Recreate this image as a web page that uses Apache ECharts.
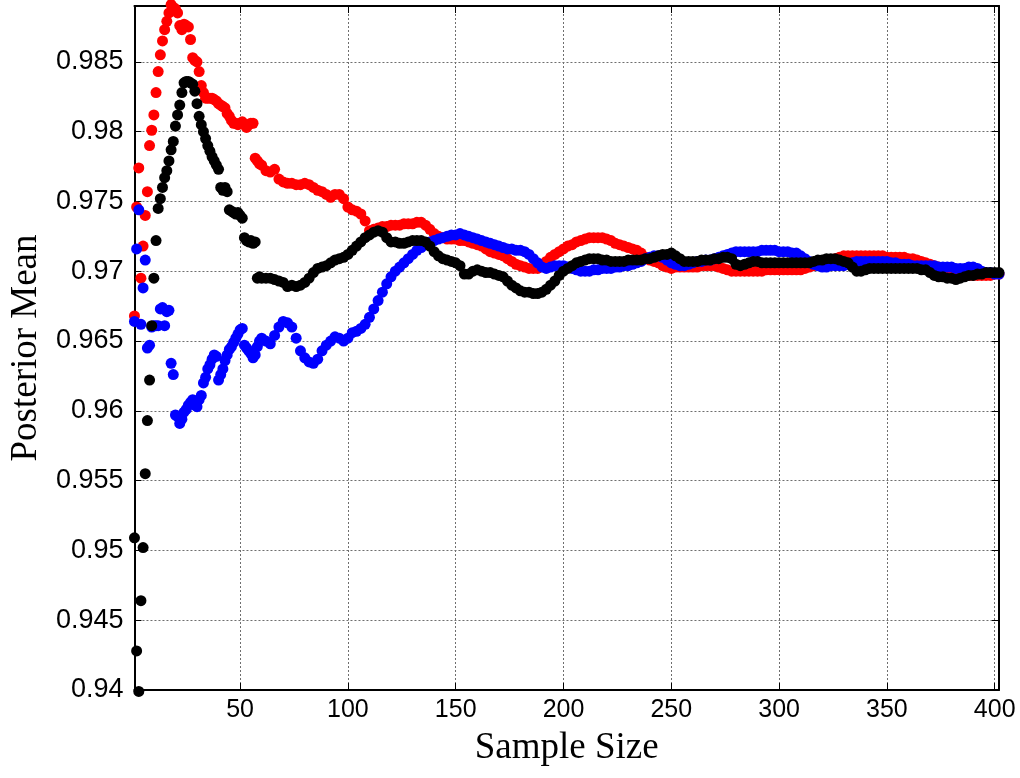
<!DOCTYPE html>
<html><head><meta charset="utf-8">
<script src="https://cdn.jsdelivr.net/npm/echarts@6/dist/echarts.min.js"></script>
<style>html,body{margin:0;padding:0;background:#fff}#c{width:1020px;height:778px}</style>
</head><body><div id="c"></div><script>
const sampleSize = [
1,2,3,4,5,6,7,8,9,10,
11,12,13,14,15,16,17,18,19,20,
21,22,23,24,25,26,27,28,29,30,
31,32,33,34,35,36,37,38,39,40,
41,42,43,44,45,46,47,48,49,50,
51,52,53,54,55,56,57,58,59,60,
62,64,66,68,70,72,74,76,78,80,
82,84,86,88,90,92,94,96,98,100,
102,104,106,108,110,112,114,116,118,120,
122,124,126,128,130,132,134,136,138,140,
142,144,146,148,150,152,154,156,158,160,
162,164,166,168,170,172,174,176,178,180,
182,184,186,188,190,192,194,196,198,200,
202,204,206,208,210,212,214,216,218,220,
222,224,226,228,230,232,234,236,238,240,
242,244,246,248,250,252,254,256,258,260,
262,264,266,268,270,272,274,276,278,280,
282,284,286,288,290,292,294,296,298,300,
302,304,306,308,310,312,314,316,318,320,
322,324,326,328,330,332,334,336,338,340,
342,344,346,348,350,352,354,356,358,360,
362,364,366,368,370,372,374,376,378,380,
382,384,386,388,390,392,394,396,398,400,
402];

const redMean = [
0.9668,0.9746,0.9774,0.9695,0.9718,0.9740,0.9757,0.9790,0.9801,0.9812,
0.9828,0.9843,0.9855,0.9865,0.9873,0.9879,0.9885,0.9891,0.9889,0.9888,
0.9885,0.9876,0.9873,0.9877,0.9876,0.9875,0.9866,0.9853,0.9851,0.9850,
0.9843,0.9833,0.9828,0.9824,0.9824,0.9824,0.9824,0.9823,0.9822,0.9820,
0.9819,0.9818,0.9817,0.9813,0.9811,0.9808,0.9806,0.9806,0.9805,0.9806,
0.9807,0.9805,0.9803,0.9805,0.9806,0.9806,0.9781,0.9779,0.9777,0.9776,
0.9772,0.9771,0.9773,0.9766,0.9764,0.9763,0.9763,0.9762,0.9762,0.9763,
0.9762,0.9760,0.9758,0.9757,0.9755,0.9753,0.9755,0.9755,0.9752,0.9746,
0.9744,0.9743,0.9741,0.9736,0.9729,0.9730,0.9731,0.9732,0.9732,0.9733,
0.9733,0.9733,0.9734,0.9734,0.9734,0.9735,0.9735,0.9733,0.9730,0.9727,
0.9725,0.9724,0.9723,0.9723,0.9723,0.9722,0.9722,0.9721,0.9720,0.9719,
0.9718,0.9716,0.9714,0.9713,0.9712,0.9711,0.9709,0.9707,0.9705,0.9704,
0.9703,0.9702,0.9702,0.9702,0.9704,0.9707,0.9710,0.9712,0.9714,0.9716,
0.9718,0.9719,0.9721,0.9722,0.9723,0.9724,0.9724,0.9724,0.9724,0.9723,
0.9722,0.9720,0.9719,0.9718,0.9717,0.9716,0.9715,0.9713,0.9710,0.9708,
0.9707,0.9706,0.9704,0.9703,0.9702,0.9703,0.9703,0.9703,0.9703,0.9703,
0.9703,0.9704,0.9704,0.9704,0.9704,0.9703,0.9702,0.9701,0.9700,0.9700,
0.9700,0.9700,0.9700,0.9700,0.9700,0.9700,0.9701,0.9701,0.9701,0.9701,
0.9701,0.9701,0.9701,0.9701,0.9701,0.9702,0.9703,0.9704,0.9705,0.9705,
0.9706,0.9708,0.9709,0.9710,0.9711,0.9711,0.9711,0.9711,0.9711,0.9711,
0.9711,0.9711,0.9711,0.9711,0.9710,0.9710,0.9710,0.9710,0.9710,0.9709,
0.9709,0.9708,0.9707,0.9706,0.9705,0.9704,0.9703,0.9702,0.9701,0.9700,
0.9699,0.9698,0.9697,0.9697,0.9697,0.9697,0.9697,0.9697,0.9697,0.9698,
0.9698];

const blueMean = [
0.9664,0.9716,0.9744,0.9662,0.9688,0.9708,0.9645,0.9647,0.9660,0.9661,
0.9661,0.9661,0.9673,0.9674,0.9661,0.9671,0.9672,0.9634,0.9626,0.9597,
0.9596,0.9591,0.9594,0.9599,0.9601,0.9604,0.9606,0.9608,0.9604,0.9603,
0.9608,0.9611,0.9620,0.9624,0.9630,0.9633,0.9637,0.9640,0.9639,0.9622,
0.9626,0.9630,0.9636,0.9640,0.9644,0.9646,0.9649,0.9652,0.9655,0.9658,
0.9659,0.9647,0.9645,0.9643,0.9641,0.9638,0.9640,0.9646,0.9650,0.9652,
0.9650,0.9648,0.9654,0.9660,0.9664,0.9663,0.9660,0.9652,0.9643,0.9638,
0.9635,0.9634,0.9637,0.9643,0.9647,0.9650,0.9653,0.9652,0.9650,0.9652,
0.9656,0.9657,0.9659,0.9662,0.9667,0.9673,0.9679,0.9685,0.9691,0.9696,
0.9700,0.9703,0.9706,0.9709,0.9712,0.9715,0.9717,0.9719,0.9721,0.9722,
0.9723,0.9724,0.9725,0.9726,0.9726,0.9727,0.9726,0.9725,0.9724,0.9723,
0.9722,0.9721,0.9720,0.9719,0.9718,0.9717,0.9716,0.9716,0.9715,0.9715,
0.9714,0.9712,0.9709,0.9706,0.9703,0.9702,0.9703,0.9704,0.9704,0.9704,
0.9703,0.9702,0.9701,0.9700,0.9700,0.9700,0.9701,0.9701,0.9702,0.9702,
0.9702,0.9703,0.9703,0.9704,0.9704,0.9705,0.9706,0.9707,0.9709,0.9710,
0.9711,0.9711,0.9710,0.9708,0.9706,0.9705,0.9704,0.9704,0.9705,0.9706,
0.9707,0.9707,0.9708,0.9708,0.9709,0.9710,0.9711,0.9712,0.9713,0.9714,
0.9714,0.9714,0.9714,0.9714,0.9714,0.9715,0.9715,0.9715,0.9715,0.9714,
0.9714,0.9714,0.9713,0.9713,0.9711,0.9709,0.9707,0.9705,0.9704,0.9703,
0.9703,0.9704,0.9704,0.9704,0.9704,0.9705,0.9706,0.9707,0.9707,0.9707,
0.9707,0.9707,0.9707,0.9707,0.9707,0.9706,0.9706,0.9705,0.9705,0.9705,
0.9704,0.9704,0.9704,0.9704,0.9704,0.9704,0.9703,0.9703,0.9703,0.9703,
0.9702,0.9702,0.9702,0.9703,0.9703,0.9702,0.9700,0.9699,0.9699,0.9698,
0.9698];

const blackMean = [
0.9509,0.9428,0.9399,0.9464,0.9502,0.9555,0.9593,0.9622,0.9661,0.9695,
0.9722,0.9745,0.9752,0.9760,0.9767,0.9772,0.9779,0.9787,0.9793,0.9804,
0.9812,0.9819,0.9828,0.9835,0.9836,0.9836,0.9835,0.9834,0.9829,0.9820,
0.9811,0.9805,0.9800,0.9795,0.9790,0.9786,0.9782,0.9779,0.9776,0.9773,
0.9760,0.9758,0.9760,0.9757,0.9744,0.9743,0.9742,0.9741,0.9742,0.9740,
0.9738,0.9724,0.9722,0.9721,0.9722,0.9720,0.9721,0.9695,0.9696,0.9695,
0.9695,0.9695,0.9694,0.9693,0.9692,0.9689,0.9690,0.9689,0.9690,0.9692,
0.9695,0.9699,0.9702,0.9703,0.9704,0.9706,0.9708,0.9709,0.9710,0.9712,
0.9715,0.9718,0.9721,0.9724,0.9726,0.9728,0.9729,0.9728,0.9724,0.9721,
0.9721,0.9720,0.9720,0.9721,0.9722,0.9722,0.9722,0.9721,0.9718,0.9714,
0.9711,0.9709,0.9708,0.9707,0.9706,0.9704,0.9698,0.9698,0.9700,0.9701,
0.9700,0.9699,0.9699,0.9698,0.9697,0.9696,0.9693,0.9690,0.9688,0.9686,
0.9685,0.9685,0.9684,0.9684,0.9685,0.9687,0.9690,0.9693,0.9697,0.9700,
0.9702,0.9704,0.9706,0.9707,0.9708,0.9709,0.9709,0.9709,0.9708,0.9708,
0.9707,0.9707,0.9707,0.9707,0.9708,0.9708,0.9708,0.9708,0.9709,0.9709,
0.9710,0.9711,0.9712,0.9712,0.9713,0.9711,0.9709,0.9707,0.9707,0.9707,
0.9707,0.9708,0.9708,0.9708,0.9709,0.9709,0.9710,0.9710,0.9709,0.9705,
0.9704,0.9705,0.9706,0.9707,0.9707,0.9706,0.9706,0.9706,0.9706,0.9706,
0.9706,0.9706,0.9706,0.9706,0.9706,0.9706,0.9706,0.9707,0.9708,0.9708,
0.9709,0.9709,0.9709,0.9708,0.9707,0.9706,0.9703,0.9700,0.9700,0.9701,
0.9702,0.9702,0.9702,0.9702,0.9702,0.9702,0.9702,0.9702,0.9702,0.9702,
0.9702,0.9702,0.9701,0.9701,0.9699,0.9697,0.9696,0.9696,0.9695,0.9695,
0.9694,0.9695,0.9696,0.9697,0.9697,0.9698,0.9698,0.9699,0.9699,0.9699,
0.9699];

const xTicks = [50,100,150,200,250,300,350,400];
const yTicks = [0.94,0.945,0.95,0.955,0.96,0.965,0.97,0.975,0.98,0.985];

function pairs(v){
  const out = [];
  const n = Math.min(v.length, sampleSize.length);
  for (let i = 0; i < n; i++) out.push([sampleSize[i], v[i]]);
  return out;
}

const chart = echarts.init(document.getElementById('c'), null, {renderer:'canvas'});
const gridLine = {show:true, lineStyle:{color:'#6e6e6e', width:1, type:[2,2]}};
const tickBase = {show:true, inside:true, length:7, lineStyle:{color:'#000', width:1}};
const lineBase = {show:true, onZero:false, lineStyle:{color:'#000', width:2}};
const sansFont = '"Liberation Sans", Arial, sans-serif';
const serifFont = '"Liberation Serif", "Times New Roman", serif';

chart.setOption({
  animation:false,
  backgroundColor:'#fff',
  grid:{left:130, right:21, top:6, bottom:88, containLabel:false},
  xAxis:[
    {type:'value', position:'bottom', min:1, max:402,
     axisLine:lineBase,
     axisTick:Object.assign({}, tickBase, {customValues:xTicks}),
     axisLabel:{customValues:xTicks, color:'#000', fontFamily:sansFont, fontSize:25, margin:8},
     splitLine:gridLine,
     name:'Sample Size', nameLocation:'middle', nameGap:40,
     nameTextStyle:{fontFamily:serifFont, fontSize:37, color:'#000'}},
    {type:'value', position:'top', min:1, max:402,
     axisLine:lineBase,
     axisTick:Object.assign({}, tickBase, {customValues:xTicks}),
     axisLabel:{show:false}, splitLine:{show:false}}
  ],
  yAxis:[
    {type:'value', position:'left', min:0.94, max:0.989,
     axisLine:lineBase,
     axisTick:Object.assign({}, tickBase, {customValues:yTicks}),
     axisLabel:{customValues:yTicks, color:'#000', fontFamily:sansFont, fontSize:27, margin:11,
       formatter:function(v){ return String(+Number(v).toFixed(3)); }},
     splitLine:gridLine,
     name:'Posterior Mean', nameLocation:'middle', nameGap:84,
     nameTextStyle:{fontFamily:serifFont, fontSize:37, color:'#000'}},
    {type:'value', position:'right', min:0.94, max:0.989,
     axisLine:lineBase,
     axisTick:Object.assign({}, tickBase, {customValues:yTicks}),
     axisLabel:{show:false}, splitLine:{show:false}}
  ],
  series:[
    {name:'red', type:'scatter', data:pairs(redMean), symbol:'circle', symbolSize:11, clip:false,
     itemStyle:{color:'#ff0000', opacity:1}, silent:true},
    {name:'blue', type:'scatter', data:pairs(blueMean), symbol:'circle', symbolSize:11, clip:false,
     itemStyle:{color:'#0000ff', opacity:1}, silent:true},
    {name:'black', type:'scatter', data:pairs(blackMean), symbol:'circle', symbolSize:11, clip:false,
     itemStyle:{color:'#000000', opacity:1}, silent:true}
  ]
});
</script></body></html>
